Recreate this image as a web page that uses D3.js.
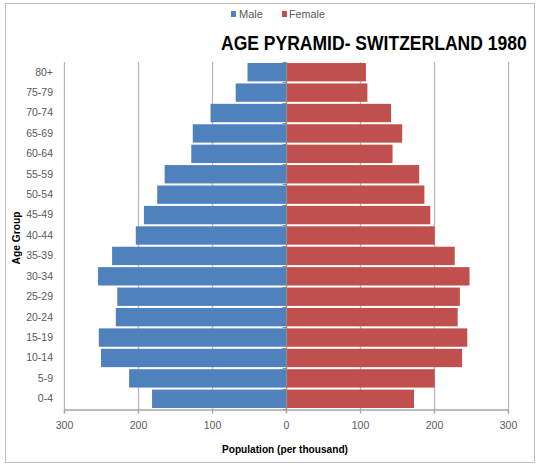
<!DOCTYPE html>
<html>
<head>
<meta charset="utf-8">
<script src="https://cdn.jsdelivr.net/npm/d3@7"></script>
<style>
  html, body { margin: 0; padding: 0; background: #fff; }
  svg { display: block; font-family: "Liberation Sans", Arial, sans-serif; }
</style>
</head>
<body>
<svg id="chart" width="537" height="464"></svg>
<script>
const ageGroups = ["80+","75-79","70-74","65-69","60-64","55-59","50-54","45-49","40-44","35-39","30-34","25-29","20-24","15-19","10-14","5-9","0-4"];
const male   = [52, 68, 102, 126, 128, 164, 174, 192, 203, 235, 254, 228, 230, 253, 250, 212, 181];
const female = [108, 110, 142, 157, 144, 180, 187, 195, 201, 228, 248, 235, 232, 245, 238, 201, 173];
const xTicks = [-300, -200, -100, 0, 100, 200, 300];
const seriesNames = ["Male", "Female"];
const seriesColors = ["#4F81BD", "#C0504D"];
const titleText = "AGE PYRAMID- SWITZERLAND 1980";
const xTitle = "Population (per thousand)";
const yTitle = "Age Group";

const svg = d3.select("#chart");
const plot = {left: 64, right: 508, top: 62, bottom: 409};

// outer frame
svg.append("rect").attr("x", 5.5).attr("y", 3.5).attr("width", 529).attr("height", 459)
  .attr("fill", "#fff").attr("stroke", "#bdbdbd").attr("stroke-width", 1);

const x = d3.scaleLinear().domain([-300, 300]).range([plot.left, plot.right]);
const y = d3.scaleBand().domain(ageGroups).range([plot.top, plot.bottom]).paddingInner(0.1).paddingOuter(0.05);
const yb = d3.scaleBand().domain(ageGroups).range([plot.top, plot.bottom]);

// gridlines
svg.append("g").selectAll("line").data(xTicks.filter(d => d !== 0)).join("line")
  .attr("x1", d => Math.round(x(d)) + 0.5).attr("x2", d => Math.round(x(d)) + 0.5)
  .attr("y1", plot.top).attr("y2", plot.bottom)
  .attr("stroke", "#b8b8b8").attr("stroke-width", 1.3);

const rows = ageGroups.map((g, i) => ({g, m: male[i], f: female[i]}));

// male bars
svg.append("g").selectAll("rect").data(rows).join("rect")
  .attr("x", d => x(-d.m)).attr("y", d => y(d.g))
  .attr("width", d => x(0) - x(-d.m)).attr("height", y.bandwidth())
  .attr("fill", seriesColors[0]);

// female bars
svg.append("g").selectAll("rect").data(rows).join("rect")
  .attr("x", x(0)).attr("y", d => y(d.g))
  .attr("width", d => x(d.f) - x(0)).attr("height", y.bandwidth())
  .attr("fill", seriesColors[1]);

// center vertical axis with category ticks at band boundaries
const cx = Math.round(x(0)) + 0.5;
svg.append("line").attr("x1", cx).attr("x2", cx).attr("y1", plot.top).attr("y2", plot.bottom + 4)
  .attr("stroke", "#8c8c8c").attr("stroke-width", 1.3);
const bounds = ageGroups.map(g => yb(g)).concat([plot.bottom]);
svg.append("g").selectAll("line").data(bounds).join("line")
  .attr("x1", cx - 4).attr("x2", cx).attr("y1", d => Math.round(d) + 0.5).attr("y2", d => Math.round(d) + 0.5)
  .attr("stroke", "#8c8c8c").attr("stroke-width", 1);

// x axis
const xAxis = d3.axisBottom(x).tickValues(xTicks).tickFormat(d => Math.abs(d)).tickSize(4).tickPadding(8);
const gx = svg.append("g").attr("transform", `translate(0,${plot.bottom + 0.5})`).call(xAxis);
gx.select(".domain").attr("stroke", "#a6a6a6").attr("stroke-width", 1.3);
gx.selectAll(".tick line").attr("stroke", "#a6a6a6").attr("stroke-width", 1.3);
gx.selectAll(".tick text").attr("fill", "#595959").attr("font-size", "10.5px")
  .attr("font-family", "'Liberation Sans', Arial, sans-serif");

// y labels
const yAxis = d3.axisLeft(yb).tickSize(0).tickPadding(11);
const gy = svg.append("g").attr("transform", `translate(${plot.left},0)`).call(yAxis);
gy.select(".domain").remove();
gy.selectAll(".tick text").attr("fill", "#595959").attr("font-size", "10.5px")
  .attr("font-family", "'Liberation Sans', Arial, sans-serif");

// axis titles
svg.append("text").attr("x", 285).attr("y", 453).attr("text-anchor", "middle")
  .attr("font-size", "11px").attr("font-weight", "bold").attr("fill", "#000")
  .attr("textLength", 126).attr("lengthAdjust", "spacingAndGlyphs").text(xTitle);
svg.append("text").attr("transform", "translate(20,238) rotate(-90)").attr("text-anchor", "middle")
  .attr("font-size", "11px").attr("font-weight", "bold").attr("fill", "#000")
  .attr("textLength", 53).attr("lengthAdjust", "spacingAndGlyphs").text(yTitle);

// title (horizontally condensed via transform so its box fits inside the frame)
const title = svg.append("text").attr("font-size", "21px").attr("font-weight", "bold")
  .attr("fill", "#000").text(titleText);
const natural = title.node().getComputedTextLength();
const sx = 306 / natural;
title.attr("transform", `translate(221,50) scale(${sx},1)`);

// legend
const legendPos = [{sx: 231, tx: 239, tw: 24}, {sx: 282, tx: 289, tw: 36}];
const lg = svg.append("g");
seriesNames.forEach((n, i) => {
  lg.append("rect").attr("x", legendPos[i].sx).attr("y", 11).attr("width", 5).attr("height", 6).attr("fill", seriesColors[i]);
  lg.append("text").attr("x", legendPos[i].tx).attr("y", 17.5).attr("font-size", "11.5px").attr("fill", "#595959")
    .attr("textLength", legendPos[i].tw).attr("lengthAdjust", "spacingAndGlyphs").text(n);
});
</script>
</body>
</html>
